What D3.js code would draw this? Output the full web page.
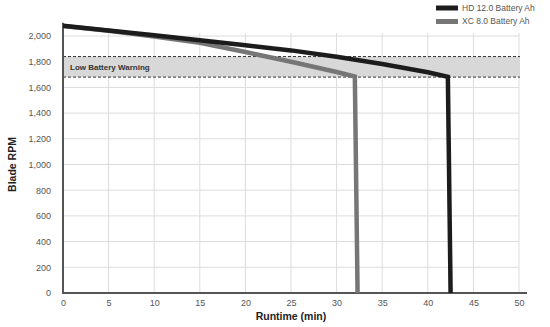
<!DOCTYPE html>
<meta charset="utf-8">
<script src="https://d3js.org/d3.v7.min.js"></script>
<style>
  body { margin: 0; background: #fff; }
  text { font-family: "Liberation Sans", Arial, sans-serif; }
</style>
<div id="my_chart"><svg></svg></div>
<script>
// runtime (min) and blade rpm
var hdTime = [0, 5, 10, 15, 20, 25, 30, 35, 40, 42.2, 42.5];
var hdRpm  = [2080, 2042, 2005, 1967, 1928, 1888, 1838, 1782, 1718, 1682, 0];
var xcTime = [0, 5, 10, 15, 20, 25, 30, 32.0, 32.3];
var xcRpm  = [2078, 2040, 1996, 1948, 1875, 1800, 1720, 1684, 0];
var seriesNames = ["HD 12.0 Battery Ah", "XC 8.0 Battery Ah"];
var seriesColors = ["#1c1c1c", "#767676"];
var xTicks = [0, 5, 10, 15, 20, 25, 30, 35, 40, 45, 50];
var yTicks = [0, 200, 400, 600, 800, 1000, 1200, 1400, 1600, 1800, 2000];
var warnBand = [1680, 1840];
var warnLabel = "Low Battery Warning";

var svg = d3.select("#my_chart").select("svg")
    .attr("width", 550)
    .attr("height", 327);

var x = d3.scaleLinear().domain([0, 50]).range([63, 519]);
var y = d3.scaleLinear().domain([0, 2000]).range([293, 36]);

// grid
svg.append("g").selectAll("line")
    .data(yTicks.filter(function(d) { return d > 0; }))
    .join("line")
    .attr("x1", x(0)).attr("x2", x(50))
    .attr("y1", function(d) { return y(d); })
    .attr("y2", function(d) { return y(d); })
    .attr("stroke", "#dcdcdc").attr("stroke-width", 1);
svg.append("g").selectAll("line")
    .data(xTicks.filter(function(d) { return d > 0; }))
    .join("line")
    .attr("x1", function(d) { return x(d); })
    .attr("x2", function(d) { return x(d); })
    .attr("y1", y(2000) - 3).attr("y2", y(0))
    .attr("stroke", "#dcdcdc").attr("stroke-width", 1);

// low battery band
svg.append("rect")
    .attr("x", x(0)).attr("width", x(50) - x(0) + 1)
    .attr("y", y(warnBand[1]))
    .attr("height", y(warnBand[0]) - y(warnBand[1]))
    .attr("fill", "#d8d8d8");
svg.append("g").selectAll("line")
    .data(warnBand)
    .join("line")
    .attr("x1", x(0)).attr("x2", x(50) + 1)
    .attr("y1", function(d) { return y(d); })
    .attr("y2", function(d) { return y(d); })
    .attr("stroke", "#333").attr("stroke-width", 1)
    .attr("stroke-dasharray", "3,2");
svg.append("text")
    .attr("x", x(0) + 7)
    .attr("y", y((warnBand[0] + warnBand[1]) / 2))
    .attr("dy", "0.35em")
    .style("font-size", "8px")
    .style("font-weight", "bold")
    .attr("fill", "#333")
    .text(warnLabel);

// axes
var yAxis = svg.append("g")
    .attr("transform", "translate(" + x(0) + ",0)")
    .call(d3.axisLeft(y).tickValues(yTicks).tickSize(0).tickPadding(12)
        .tickFormat(d3.format(",")));
yAxis.select(".domain").remove();
yAxis.selectAll("text").style("font-size", "9px").attr("fill", "#555")
    .style("font-family", "'Liberation Sans', Arial, sans-serif");

var xAxis = svg.append("g")
    .attr("transform", "translate(0," + y(0) + ")")
    .call(d3.axisBottom(x).tickValues(xTicks).tickSize(0).tickPadding(7));
xAxis.select(".domain").remove();
xAxis.selectAll("text").style("font-size", "9px").attr("fill", "#555")
    .style("font-family", "'Liberation Sans', Arial, sans-serif");

svg.append("line")
    .attr("x1", x(0)).attr("x2", x(0))
    .attr("y1", y(2080) - 3).attr("y2", y(0) + 1)
    .attr("stroke", "#555").attr("stroke-width", 2);
svg.append("line")
    .attr("x1", x(0) - 1).attr("x2", x(50) + 8)
    .attr("y1", y(0)).attr("y2", y(0))
    .attr("stroke", "#555").attr("stroke-width", 2);

// series lines
var line = d3.line()
    .x(function(d) { return x(d[0]); })
    .y(function(d) { return y(d[1]); });
var series = [
    d3.zip(hdTime, hdRpm),
    d3.zip(xcTime, xcRpm)
];
[1, 0].forEach(function(i) {
    svg.append("path")
        .datum(series[i])
        .attr("fill", "none")
        .attr("stroke", seriesColors[i])
        .attr("stroke-width", 4.5)
        .attr("stroke-linejoin", "miter")
        .attr("d", line);
});

// legend
var legend = svg.append("g").selectAll("g")
    .data(seriesNames)
    .join("g")
    .attr("transform", function(d, i) { return "translate(436," + (8 + i * 13.5) + ")"; });
legend.append("rect")
    .attr("x", 0).attr("y", -2.5).attr("width", 22).attr("height", 5)
    .attr("fill", function(d, i) { return seriesColors[i]; });
legend.append("text")
    .attr("x", 26).attr("dy", "0.35em")
    .style("font-size", "8.5px")
    .attr("fill", "#555")
    .text(function(d) { return d; });

// axis titles
svg.append("text")
    .attr("x", x(25)).attr("y", 320)
    .attr("text-anchor", "middle")
    .style("font-size", "10.5px").style("font-weight", "bold")
    .attr("fill", "#222")
    .text("Runtime (min)");
svg.append("text")
    .attr("transform", "translate(12," + y(1000) + ") rotate(-90)")
    .attr("text-anchor", "middle")
    .attr("dy", "0.35em")
    .style("font-size", "10.5px").style("font-weight", "bold")
    .attr("fill", "#222")
    .text("Blade RPM");
</script>
